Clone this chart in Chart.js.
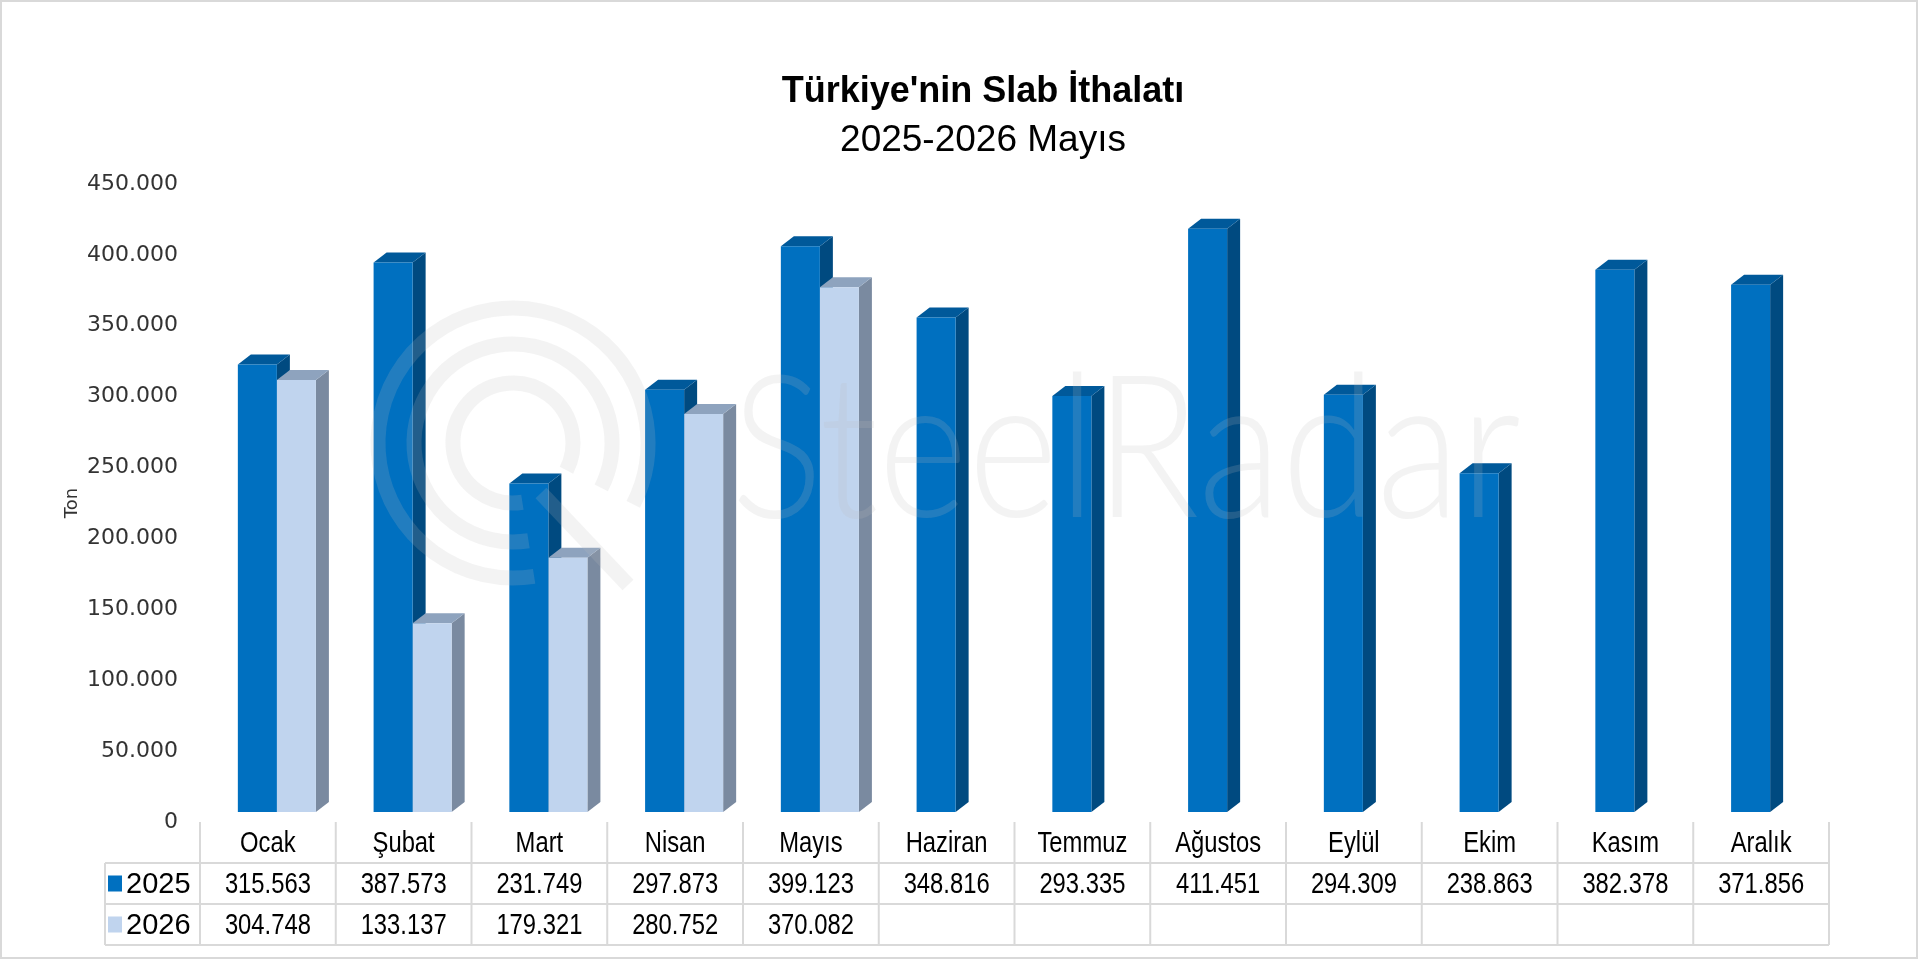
<!DOCTYPE html>
<html lang="tr">
<head>
<meta charset="utf-8">
<title>Türkiye'nin Slab İthalatı</title>
<script src="https://cdn.jsdelivr.net/npm/chart.js@4.4.1/dist/chart.umd.min.js"></script>
<style>
  html, body { margin: 0; padding: 0; background: #fff; }
</style>
</head>
<body>
<canvas id="slabChart" width="1920" height="961"></canvas>
<script>
const months = ['Ocak', 'Şubat', 'Mart', 'Nisan', 'Mayıs', 'Haziran', 'Temmuz', 'Ağustos', 'Eylül', 'Ekim', 'Kasım', 'Aralık'];
const years = ['2025', '2026'];
const imports2025 = [315563, 387573, 231749, 297873, 399123, 348816, 293335, 411451, 294309, 238863, 382378, 371856];
const imports2026 = [304748, 133137, 179321, 280752, 370082, null, null, null, null, null, null, null];
const yMax = 450000;
const yStep = 50000;

// face colours for the fake 3d bars
const faces = [
  { front: '#0070c0', top: '#00599a', side: '#004a80' },
  { front: '#c0d4ee', top: '#8ea3be', side: '#7a8aa0' }
];
const DX = 13, DY = 10;          // depth of the 3d box in px
const FLOOR = 7055;              // bars stand a bit in front of the back wall
const TABLE_SHIFT = 9;

const fmt = v => v == null ? '' : String(v).replace(/\B(?=(\d{3})+(?!\d))/g, '.');

function poly(ctx, pts, color) {
  ctx.beginPath();
  ctx.moveTo(pts[0][0], pts[0][1]);
  for (let k = 1; k < pts.length; k++) ctx.lineTo(pts[k][0], pts[k][1]);
  ctx.closePath();
  ctx.fillStyle = color;
  ctx.fill();
}

function narrowText(ctx, text, x, y, sx) {
  ctx.save();
  ctx.translate(x, y);
  ctx.scale(sx, 1);
  ctx.fillText(text, 0, 0);
  ctx.restore();
}

const bar3d = {
  id: 'bar3d',
  beforeDatasetsDraw(chart) {
    const ctx = chart.ctx;
    ctx.save();
    months.forEach((m, i) => {
      chart.data.datasets.forEach((ds, d) => {
        if (ds.data[i] == null) return;
        const el = chart.getDatasetMeta(d).data[i];
        const l = el.x - el.width / 2, r = el.x + el.width / 2;
        const t = el.y, b = el.base;
        poly(ctx, [[r, t], [r + DX, t - DY], [r + DX, b - DY], [r, b]], faces[d].side);
        poly(ctx, [[l, t], [l + DX, t - DY], [r + DX, t - DY], [r, t]], faces[d].top);
      });
    });
    ctx.restore();
  }
};

const watermark = {
  id: 'watermark',
  afterDatasetsDraw(chart) {
    const ctx = chart.ctx;
    ctx.save();
    ctx.strokeStyle = 'rgba(190,190,190,0.18)';
    ctx.fillStyle = 'rgba(190,190,190,0.18)';
    ctx.lineWidth = 15;
    const cx = 513, cy = 443;
    [135, 99, 60].forEach(r => {
      ctx.beginPath();
      ctx.arc(cx, cy, r, Math.PI * 0.45, Math.PI * 2.15);
      ctx.stroke();
    });
    ctx.beginPath();
    ctx.moveTo(cx + 28, cy + 50);
    ctx.lineTo(cx + 115, cy + 142);
    ctx.stroke();
    ctx.font = '300 200px Lato, "Open Sans", sans-serif';
    ctx.textAlign = 'left';
    ctx.textBaseline = 'alphabetic';
    ctx.fillText('SteelRadar', 731, 517, 790);
    ctx.restore();
  }
};

const dataTable = {
  id: 'dataTable',
  afterDraw(chart) {
    const ctx = chart.ctx;
    const area = chart.chartArea;
    const xs = chart.scales.x;
    const cw = (area.right - area.left) / months.length;
    const col = i => xs.getPixelForValue(i) - cw / 2 - TABLE_SHIFT;
    const top = area.bottom;
    const rows = [top + 41, top + 82, top + 123];
    const left = 105, right = col(months.length);

    ctx.save();
    ctx.strokeStyle = '#d9d9d9';
    ctx.lineWidth = 2;
    ctx.beginPath();
    rows.forEach(y => { ctx.moveTo(left, y); ctx.lineTo(right, y); });
    ctx.moveTo(left, rows[0]); ctx.lineTo(left, rows[2]);
    for (let i = 0; i <= months.length; i++) {
      ctx.moveTo(col(i), top); ctx.lineTo(col(i), rows[2]);
    }
    ctx.stroke();

    ctx.fillStyle = '#000';
    ctx.textAlign = 'center';
    ctx.textBaseline = 'middle';
    ctx.font = '29px "Liberation Sans", Arial, sans-serif';
    const series = [imports2025, imports2026];
    months.forEach((m, i) => {
      const cx = col(i) + cw / 2;
      narrowText(ctx, m, cx, (top + rows[0]) / 2 + 1, 0.82);
      series.forEach((s, r) => {
        narrowText(ctx, fmt(s[i]), cx, (rows[r] + rows[r + 1]) / 2 + 1, 0.82);
      });
    });

    // legend keys in the first column
    ctx.textAlign = 'left';
    years.forEach((yr, r) => {
      const cy = (rows[r] + rows[r + 1]) / 2;
      ctx.fillStyle = faces[r].front;
      ctx.fillRect(108, cy - 8, 14, 16);
      ctx.fillStyle = '#000';
      ctx.fillText(yr, 126, cy + 1);
    });
    ctx.restore();
  }
};

const titles = {
  id: 'titles',
  afterDraw(chart) {
    const ctx = chart.ctx;
    ctx.save();
    ctx.fillStyle = '#000';
    ctx.textAlign = 'center';
    ctx.textBaseline = 'middle';
    ctx.font = 'bold 36px "Liberation Sans", Arial, sans-serif';
    ctx.fillText("Türkiye'nin Slab İthalatı", 983, 92);
    ctx.font = '37px "Liberation Sans", Arial, sans-serif';
    ctx.fillText('2025-2026 Mayıs', 983, 141);
    // chart frame
    ctx.strokeStyle = '#d9d9d9';
    ctx.lineWidth = 2;
    ctx.strokeRect(1, 1, 1916, 957);
    ctx.restore();
  }
};

Chart.defaults.font.family = '"DejaVu Sans", sans-serif';

new Chart(document.getElementById('slabChart'), {
  type: 'bar',
  data: {
    labels: months,
    datasets: [
      { label: years[0], data: imports2025, backgroundColor: faces[0].front, yAxisID: 'yb' },
      { label: years[1], data: imports2026, backgroundColor: faces[1].front, yAxisID: 'yb' }
    ]
  },
  options: {
    responsive: false,
    animation: false,
    categoryPercentage: 0.575,
    barPercentage: 1,
    layout: { padding: { left: 0, top: 184, right: 82, bottom: 139 } },
    plugins: {
      legend: { display: false },
      title: { display: false },
      tooltip: { enabled: false }
    },
    scales: {
      x: { display: false },
      y: {
        position: 'left',
        min: 0,
        max: yMax,
        ticks: {
          stepSize: yStep,
          padding: 31,
          color: '#333',
          font: { size: 22 },
          callback: v => fmt(v)
        },
        grid: { display: false, drawTicks: false },
        border: { display: false },
        title: {
          display: true,
          text: 'Ton',
          color: '#333',
          font: { size: 18 },
          padding: { top: 62, bottom: 0 }
        },
        afterFit: s => { s.width = 209; }
      },
      yb: { display: false, min: -FLOOR, max: yMax - FLOOR }
    }
  },
  plugins: [bar3d, watermark, dataTable, titles]
});
</script>
</body>
</html>
